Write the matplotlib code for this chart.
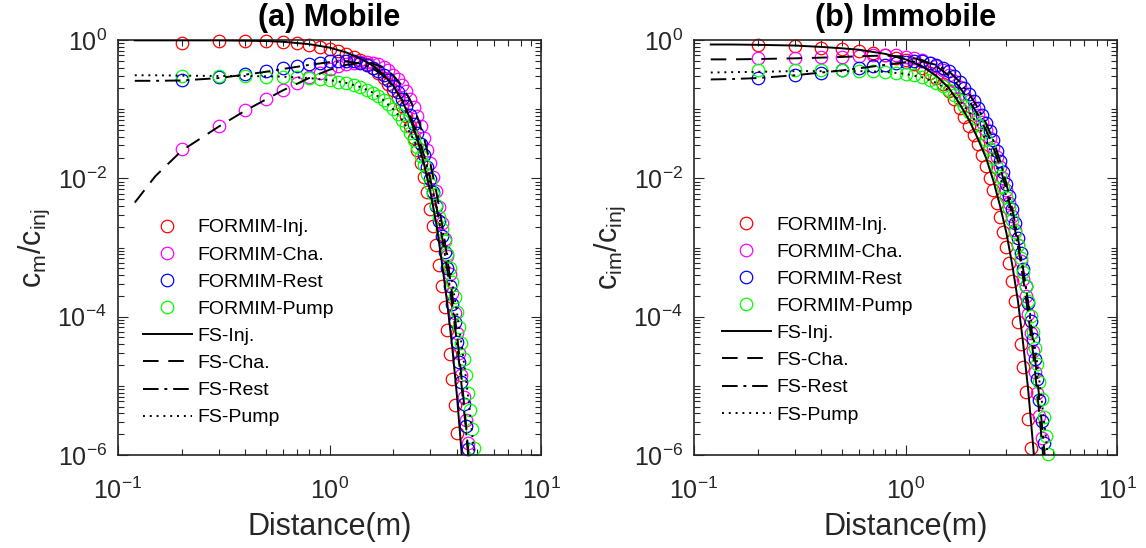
import numpy as np
import matplotlib
matplotlib.use('Agg')
import matplotlib.pyplot as plt
from matplotlib.lines import Line2D
from matplotlib.ticker import LogLocator, NullFormatter

plt.rcParams['font.family'] = ['Liberation Sans', 'DejaVu Sans']
plt.rcParams['mathtext.fontset'] = 'custom'
plt.rcParams['mathtext.rm'] = 'Liberation Sans'
plt.rcParams['mathtext.it'] = 'Liberation Sans:italic'
plt.rcParams['mathtext.bf'] = 'Liberation Sans:bold'

# FORMIM output nodes (m)
x_sim = [0.2, 0.3, 0.4, 0.5, 0.6, 0.7, 0.8, 0.9, 1.0, 1.1, 1.2, 1.3, 1.4, 1.5, 1.6,
         1.7, 1.8, 1.9, 2.0, 2.1, 2.2, 2.3, 2.4, 2.5, 2.6, 2.7, 2.8, 2.9, 3.0, 3.1,
         3.2, 3.3, 3.4, 3.5, 3.6, 3.7, 3.8, 3.9, 4.0, 4.1, 4.2, 4.3, 4.4, 4.5, 4.6,
         4.7, 4.8]
# distances where the FS solution is evaluated (m)
x_fs = [0.12, 0.15, 0.2, 0.3, 0.4, 0.5, 0.6, 0.8, 1.0, 1.2, 1.4, 1.6, 1.8, 2.0, 2.2,
        2.4, 2.6, 2.8, 3.0, 3.2, 3.4, 3.6, 3.8, 4.0, 4.2, 4.4, 4.6, 4.8, 5.0]

# ---- mobile domain, log10(c_m/c_inj) ----
inj_m = [-0.04, -0.01, -0.01, -0.01, -0.025, -0.045, -0.07, -0.10, -0.13, -0.16,
         -0.20, -0.24, -0.29, -0.34, -0.40, -0.47, -0.55, -0.63, -0.73, -0.84,
         -0.96, -1.10, -1.25, -1.41, -1.59, -1.78, -1.98, -2.20, -2.44, -2.69,
         -2.96, -3.25, -3.55, -3.86, -4.19, -4.54, -4.90, -5.28, -5.68]
cha_m = [-1.57, -1.24, -1.01, -0.85, -0.72, -0.62, -0.54, -0.47, -0.42, -0.38,
         -0.35, -0.33, -0.32, -0.32, -0.33, -0.35, -0.39, -0.44, -0.50, -0.57,
         -0.65, -0.74, -0.85, -0.97, -1.10, -1.25, -1.41, -1.59, -1.78, -1.98,
         -2.19, -2.41, -2.64, -2.88, -3.13, -3.39, -3.66, -3.94, -4.23, -4.53,
         -4.84, -5.16, -5.49, -5.83]
rest_m = [-0.58, -0.54, -0.49, -0.45, -0.41, -0.38, -0.35, -0.33, -0.31, -0.30,
          -0.30, -0.31, -0.33, -0.36, -0.40, -0.45, -0.51, -0.58, -0.66, -0.75,
          -0.85, -0.96, -1.08, -1.21, -1.35, -1.50, -1.66, -1.83, -2.01, -2.20,
          -2.40, -2.61, -2.83, -3.06, -3.30, -3.55, -3.81, -4.08, -4.36, -4.65,
          -4.95, -5.26, -5.58, -5.91]
pump_m = [-0.52, -0.52, -0.52, -0.53, -0.53, -0.54, -0.55, -0.56, -0.58, -0.60,
          -0.62, -0.65, -0.68, -0.72, -0.76, -0.81, -0.87, -0.93, -1.00, -1.07,
          -1.15, -1.24, -1.34, -1.44, -1.55, -1.67, -1.80, -1.94, -2.08, -2.23,
          -2.39, -2.56, -2.73, -2.91, -3.10, -3.30, -3.50, -3.71, -3.93, -4.15,
          -4.38, -4.61, -4.85, -5.10, -5.35, -5.62, -5.90]

fs_inj_m = [-0.005, -0.005, -0.005, -0.005, -0.01, -0.015, -0.025, -0.06, -0.11,
            -0.18, -0.27, -0.37, -0.50, -0.66, -0.87, -1.13, -1.43, -1.80, -2.20,
            -2.66, -3.22, -3.80, -4.43, -5.13, -5.92, -6.8]
fs_cha_m = [-2.35, -1.97, -1.60, -1.25, -1.02, -0.86, -0.73, -0.55, -0.43, -0.36,
            -0.33, -0.34, -0.40, -0.51, -0.66, -0.86, -1.11, -1.42, -1.79, -2.20,
            -2.65, -3.14, -3.67, -4.24, -4.85, -5.50, -6.2]
fs_rest_m = [-0.59, -0.59, -0.585, -0.55, -0.50, -0.46, -0.42, -0.36, -0.32, -0.31,
             -0.34, -0.41, -0.52, -0.67, -0.86, -1.09, -1.36, -1.67, -2.02, -2.41,
             -2.84, -3.31, -3.82, -4.37, -4.96, -5.59, -6.25]
fs_pump_m = [-0.51, -0.51, -0.515, -0.52, -0.52, -0.525, -0.53, -0.55, -0.58, -0.62,
             -0.68, -0.76, -0.87, -1.00, -1.15, -1.34, -1.55, -1.80, -2.08, -2.39,
             -2.73, -3.10, -3.50, -3.93, -4.38, -4.85, -5.35, -5.90, -6.5]

# ---- immobile domain, log10(c_im/c_inj) ----
inj_im = [-0.07, -0.09, -0.11, -0.13, -0.16, -0.19, -0.22, -0.26, -0.29, -0.34,
          -0.40, -0.47, -0.55, -0.64, -0.74, -0.86, -0.98, -1.11, -1.24, -1.37,
          -1.51, -1.66, -1.82, -1.99, -2.17, -2.36, -2.56, -2.77, -2.99, -3.23,
          -3.49, -3.77, -4.07, -4.39, -4.73, -5.09, -5.48, -5.90]
cha_im = [-0.265, -0.255, -0.25, -0.24, -0.23, -0.22, -0.21, -0.22, -0.24, -0.26,
          -0.29, -0.33, -0.38, -0.44, -0.51, -0.59, -0.68, -0.78, -0.88, -0.98,
          -1.08, -1.19, -1.30, -1.42, -1.55, -1.69, -1.84, -2.00, -2.17, -2.35,
          -2.54, -2.74, -2.96, -3.20, -3.45, -3.70, -3.96, -4.23, -4.50, -4.80,
          -5.11, -5.43, -5.76]
rest_im = [-0.55, -0.51, -0.47, -0.44, -0.41, -0.38, -0.36, -0.33, -0.32, -0.31,
           -0.31, -0.33, -0.36, -0.40, -0.45, -0.52, -0.60, -0.69, -0.78, -0.88,
           -0.98, -1.09, -1.20, -1.32, -1.45, -1.60, -1.75, -1.91, -2.08, -2.26,
           -2.45, -2.65, -2.86, -3.08, -3.31, -3.55, -3.80, -4.06, -4.33, -4.61,
           -4.90, -5.20, -5.51, -5.83]
pump_im = [-0.43, -0.43, -0.44, -0.44, -0.45, -0.45, -0.46, -0.47, -0.49, -0.51,
           -0.54, -0.58, -0.62, -0.67, -0.73, -0.80, -0.87, -0.95, -1.04, -1.13,
           -1.23, -1.34, -1.45, -1.57, -1.70, -1.83, -1.97, -2.12, -2.27, -2.43,
           -2.60, -2.78, -2.96, -3.15, -3.35, -3.56, -3.77, -3.99, -4.22, -4.45,
           -4.69, -4.94, -5.19, -5.45, -5.72, -5.98]

fs_inj_im = [-0.065, -0.065, -0.07, -0.08, -0.10, -0.12, -0.14, -0.20, -0.28, -0.38,
             -0.52, -0.69, -0.92, -1.16, -1.43, -1.70, -2.03, -2.40, -2.79, -3.26,
             -3.77, -4.39, -5.05, -5.82, -6.6]
fs_cha_im = [-0.28, -0.28, -0.275, -0.265, -0.255, -0.245, -0.235, -0.225, -0.24,
             -0.29, -0.38, -0.51, -0.68, -0.88, -1.08, -1.30, -1.55, -1.84, -2.17,
             -2.54, -2.96, -3.45, -3.96, -4.50, -5.11, -5.76, -6.4]
fs_rest_im = [-0.57, -0.565, -0.55, -0.51, -0.47, -0.44, -0.41, -0.36, -0.32, -0.31,
              -0.36, -0.45, -0.60, -0.78, -0.98, -1.20, -1.45, -1.75, -2.08, -2.45,
              -2.86, -3.31, -3.80, -4.33, -4.90, -5.51, -6.15]
fs_pump_im = [-0.47, -0.465, -0.46, -0.45, -0.45, -0.45, -0.45, -0.46, -0.49, -0.54,
              -0.62, -0.73, -0.87, -1.04, -1.23, -1.45, -1.70, -1.97, -2.27, -2.60,
              -2.96, -3.35, -3.77, -4.22, -4.69, -5.19, -5.72, -6.3]

labels = ['FORMIM-Inj.', 'FORMIM-Cha.', 'FORMIM-Rest', 'FORMIM-Pump',
          'FS-Inj.', 'FS-Cha.', 'FS-Rest', 'FS-Pump']
sim_colors = ['#ff0000', '#ff00ff', '#0000ff', '#00ff00']
fs_styles = ['-', (0, (8, 5)), (0, (8, 3, 1.5, 3)), (0, (1, 2.5))]

AX_COLOR = (0.15, 0.15, 0.15)
MS = 9
MEW = 0.9
LW = 1.4


def draw_panel(ax, sims, fits, title, ylabel, leg_anchor):
    for logc, col in zip(sims, sim_colors):
        ax.plot(x_sim[:len(logc)], 10.0 ** np.array(logc), ls='none', marker='o',
                mfc='none', mec=col, ms=MS, mew=MEW, clip_on=False, zorder=2)
    for logc, ls in zip(fits, fs_styles):
        ax.plot(x_fs[:len(logc)], 10.0 ** np.array(logc), color='k', ls=ls,
                lw=LW, zorder=3)

    ax.set_xscale('log')
    ax.set_yscale('log')
    ax.set_xlim(0.1, 10)
    ax.set_ylim(1e-6, 1)
    ax.set_yticks([1e-6, 1e-4, 1e-2, 1])
    ax.set_xticks([0.1, 1, 10])
    ax.xaxis.set_minor_locator(LogLocator(base=10, subs=np.arange(1, 10), numticks=50))
    ax.yaxis.set_minor_locator(LogLocator(base=10, subs=np.arange(1, 10), numticks=50))
    ax.xaxis.set_minor_formatter(NullFormatter())
    ax.yaxis.set_minor_formatter(NullFormatter())
    ax.tick_params(which='both', direction='in', top=True, right=True,
                   color=AX_COLOR, labelcolor=AX_COLOR, width=0.8)
    ax.tick_params(which='major', length=7, labelsize=18)
    ax.tick_params(which='minor', length=4)
    ax.tick_params(axis='x', which='major', pad=16)
    ax.tick_params(axis='y', which='major', pad=8)
    for sp in ax.spines.values():
        sp.set_color(AX_COLOR)
        sp.set_linewidth(1.2)

    ax.set_title(title, fontsize=22, fontweight='bold', pad=10)
    ax.set_xlabel('Distance(m)', fontsize=22, color=AX_COLOR, labelpad=6)
    ax.set_ylabel(ylabel, fontsize=22, color=AX_COLOR, labelpad=4)

    handles = [Line2D([], [], ls='none', marker='o', mfc='none', mec=c, ms=MS, mew=MEW)
               for c in sim_colors]
    handles += [Line2D([], [], color='k', ls=ls, lw=LW) for ls in fs_styles]
    ax.legend(handles, labels, loc='upper left', bbox_to_anchor=leg_anchor,
              frameon=False, fontsize=14, handlelength=2.5, handletextpad=0.3,
              labelspacing=0.49, borderpad=0, borderaxespad=0)


fig = plt.figure(figsize=(11.46, 5.48), dpi=100)
ax_m = fig.add_axes([0.1030, 0.1697, 0.3691, 0.7573])
ax_im = fig.add_axes([0.6056, 0.1697, 0.3691, 0.7573])

draw_panel(ax_m, [inj_m, cha_m, rest_m, pump_m],
           [fs_inj_m, fs_cha_m, fs_rest_m, fs_pump_m],
           '(a) Mobile', r'$\mathregular{c_m/c_{inj}}$', (0.059, 0.569))
draw_panel(ax_im, [inj_im, cha_im, rest_im, pump_im],
           [fs_inj_im, fs_cha_im, fs_rest_im, fs_pump_im],
           '(b) Immobile', r'$\mathregular{c_{im}/c_{inj}}$', (0.066, 0.576))

fig.savefig('out.png', dpi=100)
